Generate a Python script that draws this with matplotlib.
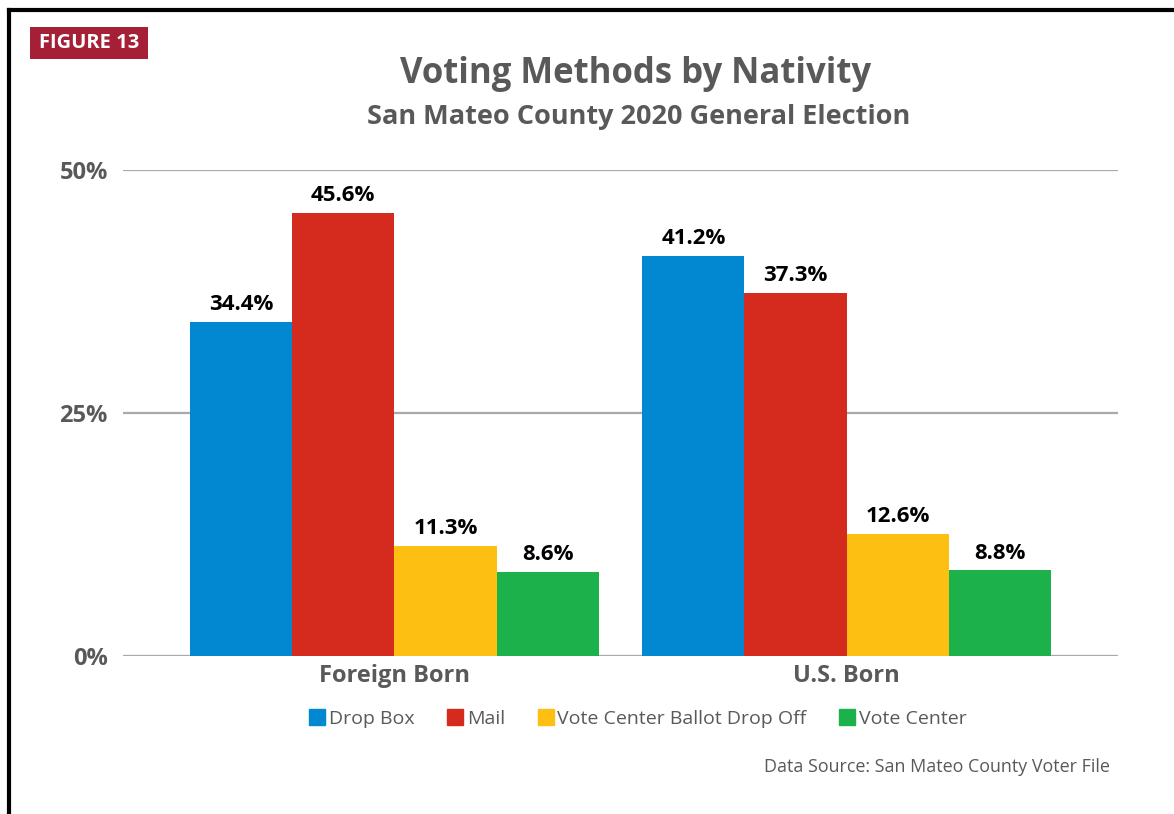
import numpy as np
import matplotlib.pyplot as plt
from matplotlib.patches import Rectangle
from matplotlib.lines import Line2D

plt.rcParams['font.family'] = ['Open Sans', 'DejaVu Sans']

groups = ['Foreign Born', 'U.S. Born']
methods = ['Drop Box', 'Mail', 'Vote Center Ballot Drop Off', 'Vote Center']
drop_box = [34.4, 41.2]
mail = [45.6, 37.3]
vc_drop_off = [11.3, 12.6]
vote_center = [8.6, 8.8]
colors = ['#0288d1', '#d52b1e', '#fdbf11', '#1db14b']
yticks = [0, 25, 50]

grey = '#595959'

fig = plt.figure(figsize=(11.74, 8.14), dpi=100)
ax = fig.add_axes([0.1048, 0.1941, 0.8475, 0.5971])

x = np.arange(len(groups))
w = 0.226
series = [drop_box, mail, vc_drop_off, vote_center]
for i, (vals, c) in enumerate(zip(series, colors)):
    pos = x + (i - 1.5) * w
    bars = ax.bar(pos, vals, width=w, color=c, zorder=3, label=methods[i])
    for b, v in zip(bars, vals):
        ax.annotate(f'{v:.1f}%', (b.get_x() + b.get_width() / 2, v),
                    xytext=(0, 5), textcoords='offset points',
                    ha='center', va='bottom', fontsize=16,
                    fontweight='bold', color='black')

ax.set_xlim(-0.6, 1.6)
ax.set_ylim(0, 50)
ax.set_yticks(yticks)
ax.set_yticklabels([f'{t}%' for t in yticks], fontsize=17, fontweight='bold', color=grey)
ax.yaxis.grid(True, color='#a8a8ae', linewidth=1.6, zorder=0)
ax.set_xticks(x)
ax.set_xticklabels(groups, fontsize=17, fontweight='bold', color=grey)
ax.tick_params(axis='both', length=0)
ax.tick_params(axis='y', pad=11)
ax.tick_params(axis='x', pad=6)
for s in ax.spines.values():
    s.set_visible(False)

# legend
handles = [Line2D([], [], marker='s', linestyle='none', markersize=11,
                  markerfacecolor=c, markeredgecolor=c) for c in colors]
fig.legend(handles, methods, loc='center', bbox_to_anchor=(637 / 1174, 1 - 719 / 814),
           ncol=4, frameon=False, fontsize=14, handletextpad=0.1,
           columnspacing=1.6, labelcolor=grey, handlelength=1.0)

# titles
fig.text(636 / 1174, 1 - 74 / 814, 'Voting Methods by Nativity', ha='center', va='center',
         fontsize=25, fontweight='bold', color=grey)
fig.text(639 / 1174, 1 - 117 / 814, 'San Mateo County 2020 General Election', ha='center',
         va='center', fontsize=19.5, fontweight='bold', color=grey)
fig.text(1110 / 1174, 1 - 767 / 814, 'Data Source: San Mateo County Voter File', ha='right',
         va='center', fontsize=12.9, color=grey)

# figure tag
fig.patches.append(Rectangle((30 / 1174, 1 - 59 / 814), 118 / 1174, 32 / 814,
                             transform=fig.transFigure, facecolor='#a51f36',
                             edgecolor='none'))
fig.text(89 / 1174, 1 - 43 / 814, 'FIGURE 13', ha='center', va='center',
         fontsize=14.5, fontweight='bold', color='white')

# frame border
fig.add_artist(Line2D([9 / 1174, 9 / 1174], [0, 1 - 10 / 814], color='black',
                      linewidth=3, transform=fig.transFigure))
fig.add_artist(Line2D([9 / 1174, 1], [1 - 10 / 814, 1 - 10 / 814], color='black',
                      linewidth=3, transform=fig.transFigure))

fig.savefig('out.png', dpi=100)
